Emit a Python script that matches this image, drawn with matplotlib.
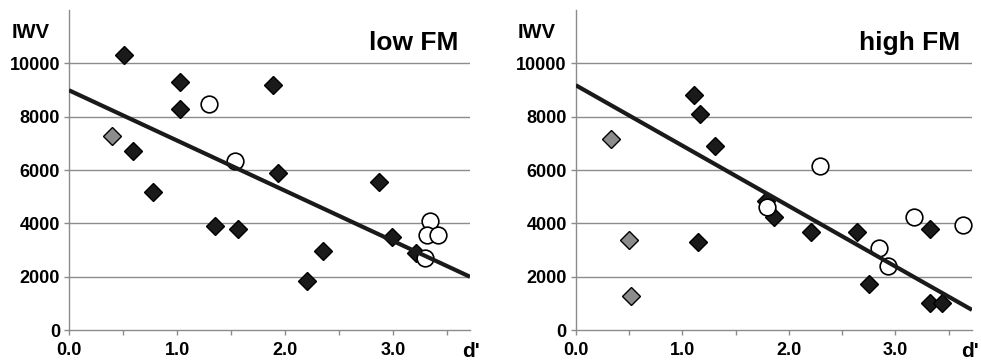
import matplotlib
matplotlib.use('Agg')
from matplotlib import pyplot as plt

plt.rcParams['font.family'] = ['Liberation Sans', 'DejaVu Sans']
plt.rcParams['font.weight'] = 'bold'

# low FM panel
low_black_x = [0.51, 1.03, 1.03, 1.89, 0.59, 0.78, 1.35, 1.56, 1.93, 2.20, 2.35, 2.87, 2.99, 3.21]
low_black_y = [10320, 9300, 8300, 9180, 6700, 5180, 3910, 3800, 5890, 1840, 2970, 5560, 3470, 2870]
low_gray_x = [0.40]
low_gray_y = [7270]
low_open_x = [1.30, 1.54, 3.34, 3.31, 3.41, 3.29]
low_open_y = [8460, 6330, 4080, 3580, 3580, 2710]
low_fit = (8990, -1885)   # intercept, slope

# high FM panel
high_black_x = [1.11, 1.17, 1.31, 1.15, 1.79, 1.86, 2.21, 2.64, 2.75, 3.33, 3.33, 3.44]
high_black_y = [8830, 8110, 6900, 3300, 4850, 4220, 3670, 3680, 1710, 3770, 1000, 1020]
high_gray_x = [0.33, 0.50, 0.52]
high_gray_y = [7150, 3360, 1270]
high_open_x = [2.29, 1.80, 2.85, 2.93, 3.18, 3.64]
high_open_y = [6140, 4620, 3060, 2410, 4230, 3920]
high_fit = (9180, -2265)

yticks = [0, 2000, 4000, 6000, 8000, 10000]
xticks = [0.0, 1.0, 2.0, 3.0]

fig = plt.figure(figsize=(9.81, 3.64), dpi=100)
ax1 = fig.add_axes([0.0703, 0.0934, 0.4088, 0.8791])
ax2 = fig.add_axes([0.5869, 0.0934, 0.4039, 0.8791])

# axes, data..., title, x max, title right edge / IWV left / d' left (figure fraction)
panels = [
    (ax1, low_black_x, low_black_y, low_gray_x, low_gray_y, low_open_x, low_open_y, low_fit,
     'low FM', 3.71, 0.467, 0.012, 0.471),
    (ax2, high_black_x, high_black_y, high_gray_x, high_gray_y, high_open_x, high_open_y, high_fit,
     'high FM', 3.72, 0.979, 0.528, 0.9795),
]

for ax, bx, by, gx, gy, ox, oy, fit, title, xmax, tx, ix, dx in panels:
    ax.set_xlim(0, xmax)
    ax.set_ylim(0, 12000)
    # grid lines
    for yv in yticks[1:]:
        ax.axhline(yv, color='#8c8c8c', lw=1.0, zorder=1)
    ax.plot(bx, by, 'D', ms=9.2, mfc='#1a1a1a', mec='#000000', mew=1.0, zorder=3)
    ax.plot(gx, gy, 'D', ms=9.2, mfc='#8c8c8c', mec='#000000', mew=1.0, zorder=3)
    ax.plot(ox, oy, 'o', ms=12, mfc='white', mec='#000000', mew=1.2, zorder=4)
    ax.plot([0, xmax], [fit[0], fit[0] + fit[1] * xmax], color='#1a1a1a', lw=3.0, zorder=5,
            solid_capstyle='butt')

    for s in ['top', 'right']:
        ax.spines[s].set_visible(False)
    for s in ['left', 'bottom']:
        ax.spines[s].set_color('#8c8c8c')
        ax.spines[s].set_linewidth(1.0)
    ax.set_xticks(xticks)
    ax.set_xticklabels(['0.0', '1.0', '2.0', '3.0'])
    ax.set_xticks([0.5, 1.5, 2.5, 3.5], minor=True)
    ax.set_yticks(yticks)
    ax.tick_params(axis='both', which='both', color='#8c8c8c', length=3.5, width=1.0,
                   labelsize=13)
    ax.tick_params(axis='x', which='major', pad=5)
    ax.tick_params(axis='y', which='major', pad=3)
    for lab in ax.get_xticklabels() + ax.get_yticklabels():
        lab.set_fontweight('bold')

    fig.text(tx, 0.8626, title, ha='right', va='baseline', fontsize=19, fontweight='bold')
    fig.text(ix, 0.8956, 'IWV', ha='left', va='baseline', fontsize=14.5, fontweight='bold')
    fig.text(dx, 0.0192, "d'", ha='left', va='baseline', fontsize=15, fontweight='bold')

fig.savefig('out.png', dpi=100)
